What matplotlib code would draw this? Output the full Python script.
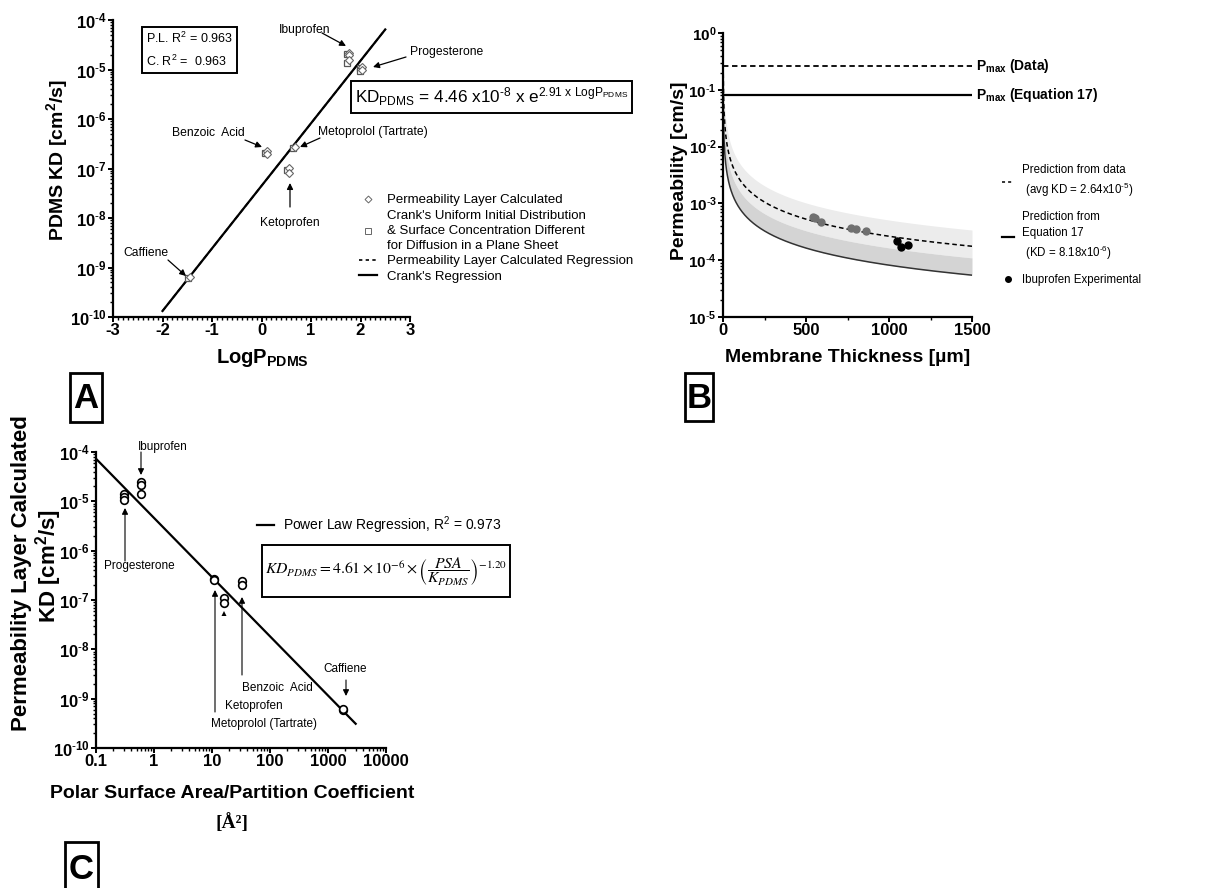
import numpy as np
import matplotlib
matplotlib.use('Agg')
import matplotlib.pyplot as plt
from matplotlib.lines import Line2D
from matplotlib.patches import Rectangle
from matplotlib.ticker import FuncFormatter, LogLocator, MultipleLocator, NullFormatter

plt.rcParams['font.family'] = ['Liberation Sans', 'DejaVu Sans']
plt.rcParams['mathtext.fontset'] = 'custom'
plt.rcParams['mathtext.rm'] = 'Liberation Sans'
plt.rcParams['mathtext.it'] = 'Liberation Sans:italic'
plt.rcParams['mathtext.bf'] = 'Liberation Sans:bold'
plt.rcParams['mathtext.sf'] = 'Liberation Sans'
plt.rcParams['mathtext.default'] = 'rm'
plt.rcParams['axes.unicode_minus'] = False

W, H = 1215, 888

# Panel A: LogP_PDMS vs PDMS KD
a_logp = [1.77, 2.03, 0.11, 0.68, 0.56, -1.44]
a_kd_pl = [[2.2e-5, 1.96e-5, 1.55e-5], [1.12e-5, 9.8e-6], [2.3e-7, 1.95e-7],
           [2.75e-7], [1.02e-7, 8.1e-8], [6.3e-10]]
a_kd_crank = [[2.05e-5, 1.35e-5], [1.05e-5, 9.4e-6], [2.1e-7],
              [2.6e-7], [9.3e-8], [6.1e-10]]
a_fit_coef, a_fit_rate = 4.46e-8, 2.91
a_fit_range = (-2.0, 2.5)

# Panel B: permeability vs membrane thickness
b_kd_data = 2.64e-5
b_kd_eq17 = 8.18e-6
b_band_light = (1.65e-5, 5.1e-5)
b_band_dark = (8.18e-6, 1.65e-5)
b_h_other = [540, 554, 590, 771, 801, 860]
b_p_other = [5.8e-4, 5.5e-4, 4.7e-4, 3.7e-4, 3.55e-4, 3.3e-4]
b_h_ibu = [1046, 1072, 1114]
b_p_ibu = [2.2e-4, 1.7e-4, 1.86e-4]

# Panel C: PSA/K vs KD
c_psa = [0.3, 0.6, 11, 16, 33, 1800]
c_kd = [[1.4e-5, 1.2e-5, 1.05e-5], [2.5e-5, 2.1e-5, 1.4e-5], [2.7e-7, 2.6e-7],
        [1.1e-7, 8.7e-8], [2.4e-7, 2.0e-7], [5.9e-10, 6.1e-10]]
c_fit_coef, c_fit_exp = 4.61e-6, -1.20
c_fit_range = (0.1, 3000)


def fp(x, y):
    # figure pixel position, measured from top left
    return (x, H - y)


def style(ax, size=12):
    for s in ['top', 'right']:
        ax.spines[s].set_visible(False)
    for s in ['left', 'bottom']:
        ax.spines[s].set_linewidth(1.6)
    ax.tick_params(which='major', direction='out', length=3.5, width=1.4, labelsize=size, pad=1)
    ax.tick_params(which='minor', direction='out', length=2, width=1)


def logfmt(v, p):
    e = round(np.log10(v))
    if e < 0:
        return r'$\mathbf{10^{\text{-}%d}}$' % (-e)
    return r'$\mathbf{10^{%d}}$' % e


def bold_labels(ax):
    for t in ax.get_xticklabels() + ax.get_yticklabels():
        t.set_fontweight('bold')


def arrow(fig, start, end, lw=0.9):
    fig.add_artist(matplotlib.text.Annotation(
        '', xy=fp(*end), xytext=fp(*start), xycoords='figure pixels', textcoords='figure pixels',
        arrowprops=dict(arrowstyle='-|>', color='black', lw=lw, mutation_scale=9,
                        shrinkA=0, shrinkB=0)))


def ptext(fig, x, y, s, **kw):
    kw.setdefault('ha', 'center')
    kw.setdefault('va', 'center')
    return fig.text(x / W, 1 - y / H, s, **kw)


def pbox(fig, x0, y0, x1, y1, lw=2):
    fig.add_artist(Rectangle((x0 / W, 1 - y1 / H), (x1 - x0) / W, (y1 - y0) / H,
                             transform=fig.transFigure, fill=False, lw=lw, ec='black'))


def letter_box(fig, x0, y0, x1, y1, s):
    pbox(fig, x0, y0, x1, y1)
    ptext(fig, (x0 + x1) / 2, (y0 + y1) / 2 + 1, s, fontsize=25, fontweight='bold')


fig = plt.figure(figsize=(W / 100, H / 100), dpi=100)

#################################
# Panel A
#################################
axA = fig.add_axes([113 / W, 1 - 317 / H, 297 / W, 297 / H])
style(axA)
axA.set_yscale('log')
axA.set_xlim(-3, 3)
axA.set_ylim(1e-10, 1e-4)
axA.xaxis.set_major_locator(MultipleLocator(1))
axA.xaxis.set_minor_locator(MultipleLocator(0.1))
axA.xaxis.set_major_formatter(FuncFormatter(lambda v, p: '%d' % round(v)))
axA.yaxis.set_major_locator(LogLocator(base=10, numticks=10))
axA.yaxis.set_minor_locator(LogLocator(base=10, subs=np.arange(2, 10), numticks=20))
axA.yaxis.set_major_formatter(FuncFormatter(logfmt))
axA.yaxis.set_minor_formatter(NullFormatter())

xf = np.linspace(a_fit_range[0], a_fit_range[1], 100)
axA.plot(xf, a_fit_coef * np.exp(a_fit_rate * xf), '-', color='black', lw=1.6)
axA.plot(xf, a_fit_coef * np.exp(a_fit_rate * xf), '--', color='black', lw=1.2, dashes=(3, 2))
for x, ys in zip(a_logp, a_kd_crank):
    axA.plot([x - 0.04] * len(ys), ys, 's', ms=5, mfc='white', mec='#555555', mew=0.9, ls='none')
for x, ys in zip(a_logp, a_kd_pl):
    axA.plot([x] * len(ys), ys, 'D', ms=4, mfc='white', mec='#666666', mew=0.8, ls='none')
bold_labels(axA)

a_handles = [Line2D([], [], marker='D', ms=3.5, mfc='white', mec='#666666', mew=0.7, ls='none'),
             Line2D([], [], marker='s', ms=4, mfc='white', mec='#666666', mew=0.7, ls='none'),
             Line2D([], [], color='black', lw=1.2, ls='--', dashes=(2, 2)),
             Line2D([], [], color='black', lw=1.6)]
a_labels = ['Permeability Layer Calculated',
            "Crank's Uniform Initial Distribution\n& Surface Concentration Different\nfor Diffusion in a Plane Sheet",
            'Permeability Layer Calculated Regression',
            "Crank's Regression"]
legA = axA.legend(a_handles, a_labels, loc='upper left', bbox_to_anchor=(359 / W, 1 - 194 / H),
                  bbox_transform=fig.transFigure, frameon=False, fontsize=9.5, handlelength=1.4,
                  handletextpad=0.7, labelspacing=0.25, borderaxespad=0, borderpad=0)
for t in legA.get_texts():
    t.set_linespacing(1.35)

ptext(fig, 57, 160, r'PDMS KD [cm$^{\mathbf{2}}$/s]', fontsize=14, fontweight='bold', rotation=90)
ptext(fig, 262, 358, r'LogP$_{\mathbf{PDMS}}$', fontsize=14.5, fontweight='bold')
ptext(fig, 146, 50, 'P.L. R$^2$ = 0.963\nC. R$^2$ =  0.963', ha='left', fontsize=9,
      linespacing=1.6, bbox=dict(boxstyle='square,pad=0.3', fc='white', ec='black', lw=1.4))
ptext(fig, 355, 97, r'KD$_{\mathrm{PDMS}}$ = 4.46 x10$^{\text{-}8}$ x e$^{2.91\ \mathrm{x\ LogP}_{\mathrm{PDMS}}}$',
      ha='left', fontsize=12.3, bbox=dict(boxstyle='square,pad=0.25', fc='white', ec='black', lw=1.4))

a_notes = [('Ibuprofen', (305, 30), (322, 33), (346, 46)),
           ('Progesterone', (447, 52), (406, 57), (373, 67)),
           ('Benzoic  Acid', (208, 133), (245, 140), (262, 147)),
           ('Metoprolol (Tartrate)', (373, 132), (320, 138), (300, 147)),
           ('Ketoprofen', (290, 223), (290, 207), (290, 183)),
           ('Caffiene', (146, 253), (168, 260), (186, 276))]
for name, tp, s, e in a_notes:
    ptext(fig, tp[0], tp[1], name, fontsize=8.7)
    arrow(fig, s, e)
letter_box(fig, 70, 373, 102, 422, 'A')

#################################
# Panel B
#################################
axB = fig.add_axes([723 / W, 1 - 317 / H, 249 / W, 284 / H])
style(axB, size=11)
axB.set_yscale('log')
axB.set_xlim(0, 1500)
axB.set_ylim(1e-5, 1)
axB.xaxis.set_major_locator(MultipleLocator(500))
axB.xaxis.set_minor_locator(MultipleLocator(250))
axB.tick_params(axis='x', labelsize=12)
axB.yaxis.set_major_locator(LogLocator(base=10, numticks=10))
axB.yaxis.set_minor_locator(LogLocator(base=10, subs=np.arange(2, 10), numticks=20))
axB.yaxis.set_major_formatter(FuncFormatter(logfmt))
axB.yaxis.set_minor_formatter(NullFormatter())

h = np.linspace(1, 1500, 600)
h_cm = h * 1e-4
axB.fill_between(h, b_band_light[0] / h_cm, b_band_light[1] / h_cm, color='#ececec', lw=0)
axB.fill_between(h, b_band_dark[0] / h_cm, b_band_dark[1] / h_cm, color='#d4d4d4', lw=0)
axB.plot(h, b_kd_data / h_cm, color='black', lw=1.1, ls='--', dashes=(3, 2))
axB.plot(h, b_kd_eq17 / h_cm, color='#333333', lw=1.1)
axB.plot([0, 1500], [b_kd_data / 1e-4] * 2, color='black', lw=1.3, ls='--', dashes=(3, 2))
axB.plot([0, 1500], [b_kd_eq17 / 1e-4] * 2, color='black', lw=1.6)
axB.plot(b_h_other, b_p_other, 'o', ms=5, color='#707070', ls='none')
axB.plot(b_h_ibu, b_p_ibu, 'o', ms=5, color='black', ls='none')
bold_labels(axB)

b_handles = [Line2D([], [], color='black', lw=1.1, ls='--', dashes=(2, 2)),
             Line2D([], [], color='black', lw=1.6),
             Line2D([], [], marker='o', ms=4, color='black', ls='none')]
b_labels = ['Prediction from data\n (avg KD = 2.64x10$^{\\text{-}5}$)',
            'Prediction from\nEquation 17\n (KD = 8.18x10$^{\\text{-}6}$)',
            'Ibuprofen Experimental']
legB = axB.legend(b_handles, b_labels, loc='upper left', bbox_to_anchor=(1002 / W, 1 - 164 / H),
                  bbox_transform=fig.transFigure, frameon=False, fontsize=8.3, handlelength=1.0,
                  handletextpad=0.7, labelspacing=1.0, borderaxespad=0, borderpad=0)
for t in legB.get_texts():
    t.set_linespacing(1.4)

ptext(fig, 976, 66, r'P$_{\mathbf{max}}$ (Data)', ha='left', fontsize=10, fontweight='bold')
ptext(fig, 976, 95, r'P$_{\mathbf{max}}$ (Equation 17)', ha='left', fontsize=10, fontweight='bold')
ptext(fig, 679, 171, 'Permeability [cm/s]', fontsize=14, fontweight='bold', rotation=90)
ptext(fig, 848, 357, 'Membrane Thickness [\u00b5m]', fontsize=14, fontweight='bold')
letter_box(fig, 685, 373, 713, 421, 'B')

#################################
# Panel C
#################################
axC = fig.add_axes([96 / W, 1 - 748 / H, 290 / W, 296 / H])
style(axC)
axC.set_xscale('log')
axC.set_yscale('log')
axC.set_xlim(0.1, 10000)
axC.set_ylim(1e-10, 1e-4)
axC.xaxis.set_major_locator(LogLocator(base=10, numticks=10))
axC.xaxis.set_minor_locator(LogLocator(base=10, subs=np.arange(2, 10), numticks=20))
axC.xaxis.set_major_formatter(FuncFormatter(lambda v, p: '%g' % v))
axC.xaxis.set_minor_formatter(NullFormatter())
axC.yaxis.set_major_locator(LogLocator(base=10, numticks=10))
axC.yaxis.set_minor_locator(LogLocator(base=10, subs=np.arange(2, 10), numticks=20))
axC.yaxis.set_major_formatter(FuncFormatter(logfmt))
axC.yaxis.set_minor_formatter(NullFormatter())

xc = np.logspace(np.log10(c_fit_range[0]), np.log10(c_fit_range[1]), 100)
axC.plot(xc, c_fit_coef * xc ** c_fit_exp, color='black', lw=1.6)
for x, ys in zip(c_psa, c_kd):
    axC.plot([x] * len(ys), ys, 'o', ms=5.5, mfc='white', mec='black', mew=1.2, ls='none')
bold_labels(axC)

axC.legend([Line2D([], [], color='black', lw=1.6)], ['Power Law Regression, R$^2$ = 0.973'],
           loc='upper left', bbox_to_anchor=(257 / W, 1 - 514 / H), bbox_transform=fig.transFigure,
           frameon=False, fontsize=10, handlelength=1.2, handletextpad=0.7,
           borderaxespad=0, borderpad=0)
pbox(fig, 262, 545, 510, 597, lw=1.4)
ptext(fig, 265, 572,
      r'$\mathit{KD}_{\mathit{PDMS}} = 4.61\times10^{-6}\times\left(\dfrac{\mathit{PSA}}{\mathit{K}_{\mathit{PDMS}}}\right)^{-1.20}$',
      ha='left', fontsize=11.3, math_fontfamily='stix')

c_notes = [('Ibuprofen', (163, 447), (141, 452), (141, 475)),
           ('Progesterone', (139, 566), (125, 561), (125, 508)),
           ('Metoprolol (Tartrate)', (264, 724), (215, 712), (215, 590)),
           ('Benzoic  Acid', (277, 688), (242, 675), (242, 597)),
           ('Caffiene', (345, 669), (346, 680), (346, 696))]
for name, tp, s, e in c_notes:
    ptext(fig, tp[0], tp[1], name, fontsize=8.5)
    arrow(fig, s, e, lw=0.8)
ptext(fig, 254, 706, 'Ketoprofen', fontsize=8.5)
arrow(fig, (224, 640), (224, 611), lw=0.0)

ptext(fig, 22, 573, 'Permeability Layer Calculated', fontsize=16, fontweight='bold', rotation=90)
ptext(fig, 49, 566, r'KD [cm$^{\mathbf{2}}$/s]', fontsize=16, fontweight='bold', rotation=90)
ptext(fig, 232, 793, 'Polar Surface Area/Partition Coefficient', fontsize=14, fontweight='bold')
ptext(fig, 232, 823, '[\u00c5\u00b2]', fontsize=14, fontweight='bold', family='Liberation Serif')
letter_box(fig, 65, 842, 98, 895, 'C')

fig.savefig('out.png', dpi=100)
